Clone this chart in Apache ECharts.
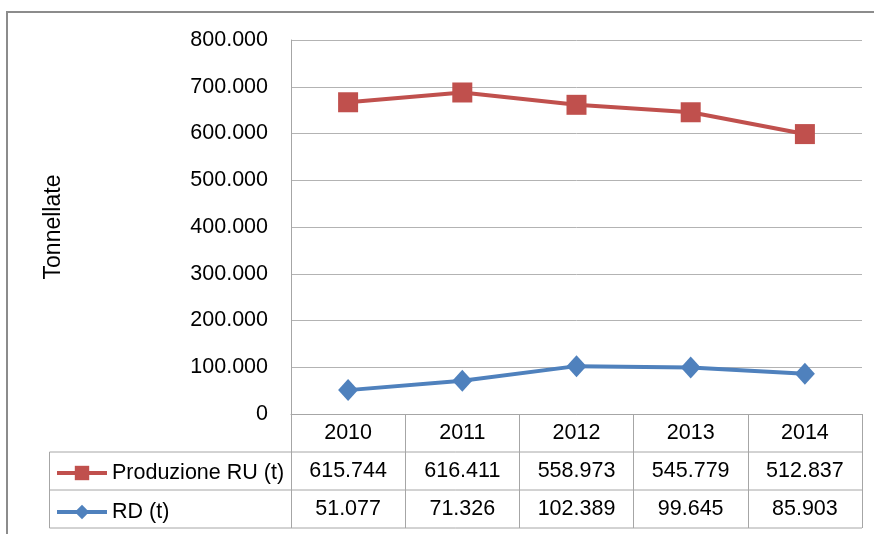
<!DOCTYPE html>
<html>
<head>
<meta charset="utf-8">
<script src="https://cdn.jsdelivr.net/npm/echarts@6/dist/echarts.min.js"></script>
<style>
    html, body { margin: 0; padding: 0; background: #fff; }
    #chart { width: 874px; height: 534px; }
</style>
</head>
<body>
<div id="chart"></div>
<script>
(function() {
"use strict";

    // dati (tonnellate)
    var anni = ['2010', '2011', '2012', '2013', '2014'];
    var produzioneRU = [615744, 616411, 558973, 545779, 512837];
    var raccoltaRD = [51077, 71326, 102389, 99645, 85903];
    var nomeRU = 'Produzione RU (t)';
    var nomeRD = 'RD (t)';

    var FONT = 'Liberation Sans';
    var FS = 21.5;
    var GRIGIO = '#a6a6a6';

    /**
     * numero con separatore delle migliaia "."
     */
    function fmt(v) {
        return String(Math.round(v)).replace(/\B(?=(\d{3})+(?!\d))/g, '.');
    }

    var gLeft = 291, gTop = 40, gRight = 862, gBottom = 414;
    var rowH = 38;

    var myChart = echarts.init(document.getElementById('chart'));

    var option = {
        animation: false,
        textStyle: { fontFamily: FONT },
        grid: {
            left: gLeft,
            top: gTop,
            width: gRight - gLeft,
            height: gBottom - gTop
        },
        legend: {
            data: [nomeRU, nomeRD],
            orient: 'vertical',
            left: 55,
            padding: 0,
            top: gBottom + rowH * 1.5 - 9,
            itemWidth: 50,
            itemHeight: 18,
            itemGap: rowH - 21,
            lineStyle: { width: 4 },
            textStyle: { fontFamily: FONT, fontSize: FS, color: '#000' }
        },
        xAxis: {
            type: 'category',
            data: anni,
            boundaryGap: true,
            axisLine: { lineStyle: { color: GRIGIO, width: 1 } },
            axisTick: {
                show: true,
                length: rowH * 3,
                lineStyle: { color: GRIGIO, width: 1 }
            },
            axisLabel: {
                margin: 0,
                fontFamily: FONT,
                fontSize: FS,
                color: '#000',
                lineHeight: rowH,
                formatter: function(val, idx) {
                    // tabella dati sotto l'asse
                    return val + '\n' + fmt(produzioneRU[idx]) + '\n' + fmt(raccoltaRD[idx]);
                }
            }
        },
        yAxis: {
            type: 'value',
            min: 0,
            max: 800000,
            interval: 100000,
            name: 'Tonnellate',
            nameLocation: 'middle',
            nameGap: 226,
            nameTextStyle: { fontFamily: FONT, fontSize: 23, color: '#000' },
            axisLine: { show: true, lineStyle: { color: GRIGIO, width: 1 } },
            axisTick: { show: false },
            axisLabel: {
                margin: 23,
                fontFamily: FONT,
                fontSize: FS,
                color: '#000',
                formatter: function(v) { return fmt(v); }
            },
            splitLine: { lineStyle: { color: '#b3b3b3', width: 1 } }
        },
        series: [{
            name: nomeRD,
            type: 'line',
            stack: 'totale',
            data: raccoltaRD,
            symbol: 'diamond',
            symbolSize: [20, 22],
            itemStyle: { color: '#4f81bd' },
            lineStyle: { color: '#4f81bd', width: 4 },
            z: 3
        }, {
            name: nomeRU,
            type: 'line',
            stack: 'totale',
            data: produzioneRU,
            symbol: 'rect',
            symbolSize: 20,
            itemStyle: { color: '#c0504d' },
            lineStyle: { color: '#c0504d', width: 4 },
            z: 4
        }],
        graphic: [
            // cornice esterna
            { type: 'line', shape: { x1: 6, y1: 12, x2: 874, y2: 12 }, style: { stroke: '#8c8c8c', lineWidth: 2 } },
            { type: 'line', shape: { x1: 7, y1: 12, x2: 7, y2: 534 }, style: { stroke: '#8c8c8c', lineWidth: 2 } },
            // righe della tabella
            { type: 'line', shape: { x1: 49.5, y1: gBottom + rowH, x2: gRight, y2: gBottom + rowH }, style: { stroke: GRIGIO, lineWidth: 1 } },
            { type: 'line', shape: { x1: 49.5, y1: gBottom + rowH * 2, x2: gRight, y2: gBottom + rowH * 2 }, style: { stroke: GRIGIO, lineWidth: 1 } },
            { type: 'line', shape: { x1: 49.5, y1: gBottom + rowH * 3, x2: gRight, y2: gBottom + rowH * 3 }, style: { stroke: GRIGIO, lineWidth: 1 } },
            { type: 'line', shape: { x1: 49.5, y1: gBottom + rowH, x2: 49.5, y2: gBottom + rowH * 3 }, style: { stroke: GRIGIO, lineWidth: 1 } }
        ]
    };

    myChart.setOption(option);
})();
</script>
</body>
</html>
